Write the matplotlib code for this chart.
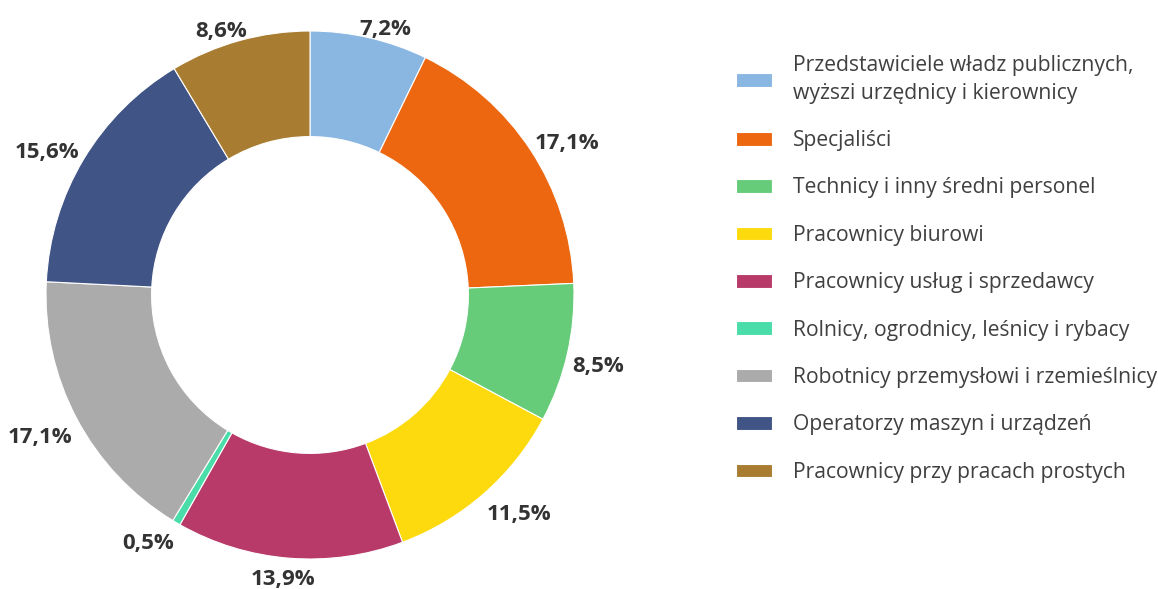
import numpy as np
import matplotlib.pyplot as plt

plt.rcParams['font.family'] = ['Open Sans', 'DejaVu Sans']

categories = [
    'Przedstawiciele władz publicznych,\nwyższi urzędnicy i kierownicy',
    'Specjaliści',
    'Technicy i inny średni personel',
    'Pracownicy biurowi',
    'Pracownicy usług i sprzedawcy',
    'Rolnicy, ogrodnicy, leśnicy i rybacy',
    'Robotnicy przemysłowi i rzemieślnicy',
    'Operatorzy maszyn i urządzeń',
    'Pracownicy przy pracach prostych',
]
shares = [7.2, 17.1, 8.5, 11.5, 13.9, 0.5, 17.1, 15.6, 8.6]
value_labels = ['7,2%', '17,1%', '8,5%', '11,5%', '13,9%', '0,5%', '17,1%', '15,6%', '8,6%']
colors = ['#8AB6E2', '#EC670F', '#67CC7A', '#FDDA0D', '#B83A68',
          '#4ADDA9', '#ABABAB', '#415486', '#A87C31']

W, H = 1158, 589
fig = plt.figure(figsize=(W / 100, H / 100), dpi=100)

# pie axes: centre (310, 295) px from top-left, outer radius 264 px
R = 264.0
half = 1.2 * R
cx, cy = 310.0, H - 295.0
ax = fig.add_axes([(cx - half) / W, (cy - half) / H, 2 * half / W, 2 * half / H])

wedges, _ = ax.pie(shares, colors=colors, startangle=90, counterclock=False,
                   radius=1.0, wedgeprops=dict(width=0.4, edgecolor='white', linewidth=0.8))
ax.set_xlim(-1.2, 1.2)
ax.set_ylim(-1.2, 1.2)
ax.set_aspect('equal')
ax.axis('off')

# labels outside the ring, nearest corner of the text box close to the rim
renderer = fig.canvas.get_renderer()
for w, lab in zip(wedges, value_labels):
    ang = np.deg2rad((w.theta1 + w.theta2) / 2)
    ux, uy = np.cos(ang), np.sin(ang)
    t = ax.text(0, 0, lab, ha='center', va='center_baseline',
                fontsize=16, fontweight='bold', color='#333333')
    bb = t.get_window_extent(renderer)
    hw, hh = bb.width / 2 / R, bb.height / 2.0 / R
    sx, sy = np.clip(2.5 * ux, -1, 1), np.clip(2.5 * uy, -1, 1)
    a = 1.018
    t.set_position((a * ux + hw * sx, a * uy + hh * sy - 4 / R))

leg = fig.legend(wedges, categories, loc='upper left',
                 bbox_to_anchor=(717 / W, 1 - 36 / H), frameon=False,
                 fontsize=15.2, labelcolor='#404040',
                 handlelength=1.72, handleheight=0.62, handletextpad=1.0,
                 labelspacing=1.25)
for t in leg.get_texts():
    t.set_linespacing(1.42)

fig.savefig('out.png', dpi=100, facecolor='white')
